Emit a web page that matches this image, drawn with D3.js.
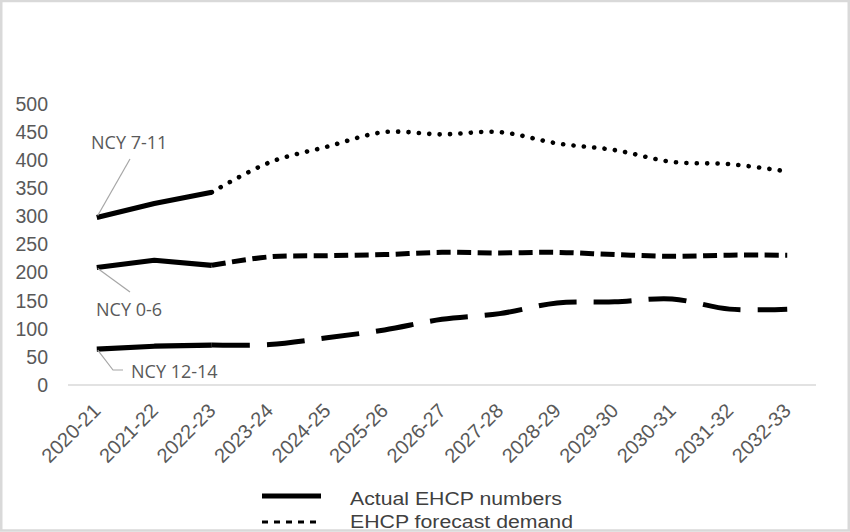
<!DOCTYPE html>
<html>
<head>
<meta charset="utf-8">
<script src="https://cdn.jsdelivr.net/npm/d3@7/dist/d3.min.js"></script>
<style>
  html, body { margin: 0; padding: 0; background: #fff; }
  svg { display: block; }
</style>
</head>
<body>
<svg id="chart" width="850" height="532"></svg>
<script>
// ---- Data ----
const categories = ["2020-21","2021-22","2022-23","2023-24","2024-25","2025-26","2026-27","2027-28","2028-29","2029-30","2030-31","2031-32","2032-33"];
const ncy711  = [298, 323, 343, 396, 424, 450, 446, 450, 430, 418, 397, 393, 380];
const ncy06   = [209, 222, 213, 228, 230, 232, 236, 235, 236, 232, 229, 231, 231];
const ncy1214 = [64, 69, 71, 72, 84, 98, 117, 127, 146, 148, 153, 135, 135];
const actualEndIndex = 2; // 2020-21 .. 2022-23 are actual numbers
const yTicks = [0, 50, 100, 150, 200, 250, 300, 350, 400, 450, 500];
const seriesNames = ["NCY 7-11", "NCY 0-6", "NCY 12-14"];
const legendLabels = ["Actual EHCP numbers", "EHCP forecast demand"];

// ---- Setup ----
const svg = d3.select("#chart");
const x = d3.scaleBand().domain(categories).range([68, 816]);
const cx = d => x(d) + x.bandwidth() / 2;
const y = d3.scaleLinear().domain([0, 500]).range([385, 104]);

const grey = "#595959";

// baseline axis
svg.append("line")
  .attr("x1", x.range()[0]).attr("x2", x.range()[1])
  .attr("y1", y(0)).attr("y2", y(0))
  .attr("stroke", "#d9d9d9").attr("stroke-width", 1.5);

// y tick labels
svg.append("g").selectAll("text").data(yTicks).join("text")
  .attr("x", 48).attr("y", d => y(d)).attr("dy", "0.35em")
  .attr("text-anchor", "end")
  .attr("font-family", "Liberation Sans, Arial, sans-serif")
  .attr("font-size", "19.5px").attr("fill", grey)
  .text(d => d);

// x tick labels (rotated)
svg.append("g").selectAll("text").data(categories).join("text")
  .attr("text-anchor", "end")
  .attr("transform", d => `translate(${cx(d) + 5},${412}) rotate(-45)`)
  .attr("font-family", "Liberation Sans, Arial, sans-serif")
  .attr("font-size", "20px").attr("fill", grey)
  .text(d => d);

// ---- Lines ----
const series = [
  { name: seriesNames[0], values: ncy711,  dash: "0.1 10.3", cap: "round", w: 4.6 },
  { name: seriesNames[1], values: ncy06,   dash: "14 6.5",   cap: "butt",  w: 5 },
  { name: seriesNames[2], values: ncy1214, dash: "38 17",    cap: "butt",  w: 5 }
];

const lineLinear = d3.line().x(d => cx(d.c)).y(d => y(d.v)).curve(d3.curveLinear);
const lineSmooth = d3.line().x(d => cx(d.c)).y(d => y(d.v)).curve(d3.curveCatmullRom.alpha(0.5));

series.forEach(s => {
  const pts = categories.map((c, i) => ({ c, v: s.values[i], i }));
  const actual = pts.filter(p => p.i <= actualEndIndex);
  const forecast = pts.filter(p => p.i >= actualEndIndex);
  svg.append("path").datum(forecast)
    .attr("d", lineSmooth)
    .attr("fill", "none").attr("stroke", "#000")
    .attr("stroke-width", s.w)
    .attr("stroke-dasharray", s.dash)
    .attr("stroke-linecap", s.cap);
  svg.append("path").datum(actual)
    .attr("d", lineLinear)
    .attr("fill", "none").attr("stroke", "#000")
    .attr("stroke-width", 5.2)
    .attr("stroke-linejoin", "round")
    .attr("stroke-linecap", "butt");
});

// ---- Data labels with leader lines ----
const labelFont = "Open Sans, sans-serif";
const leader = "#a6a6a6";
const labels = [
  { text: seriesNames[0], tx: 91, ty: 149, path: [[130, 159], [cx(categories[0]) + 1, y(ncy711[0]) - 2]] },
  { text: seriesNames[1], tx: 96, ty: 316, path: [[cx(categories[0]) + 1, y(ncy06[0]) + 1], [130, 292]] },
  { text: seriesNames[2], tx: 131, ty: 378, path: [[cx(categories[0]) + 1, y(ncy1214[0]) + 1], [113, 370], [123, 370]] }
];
labels.forEach(l => {
  svg.append("path")
    .attr("d", d3.line()(l.path))
    .attr("fill", "none").attr("stroke", leader).attr("stroke-width", 1.2);
  svg.append("text")
    .attr("x", l.tx).attr("y", l.ty)
    .attr("font-family", labelFont).attr("font-size", "18px").attr("fill", grey)
    .text(l.text);
});

// ---- Legend ----
const lg = svg.append("g");
lg.append("line").attr("x1", 262).attr("x2", 321).attr("y1", 496).attr("y2", 496)
  .attr("stroke", "#000").attr("stroke-width", 5);
lg.append("text").attr("x", 350).attr("y", 505)
  .attr("font-family", "Liberation Sans, Arial, sans-serif").attr("font-size", "17.5px")
  .attr("fill", "#404040").attr("textLength", 212).attr("lengthAdjust", "spacingAndGlyphs")
  .text(legendLabels[0]);
lg.append("line").attr("x1", 262).attr("x2", 321).attr("y1", 522).attr("y2", 522)
  .attr("stroke", "#000").attr("stroke-width", 3).attr("stroke-dasharray", "6 6");
lg.append("text").attr("x", 350).attr("y", 528)
  .attr("font-family", "Liberation Sans, Arial, sans-serif").attr("font-size", "17.5px")
  .attr("fill", "#404040").attr("textLength", 223).attr("lengthAdjust", "spacingAndGlyphs")
  .text(legendLabels[1]);

// ---- Outer border ----
svg.append("rect").attr("x", 1.25).attr("y", 1).attr("width", 847.5).attr("height", 529.5)
  .attr("fill", "none").attr("stroke", "#d9d9d9").attr("stroke-width", 2.5);
</script>
</body>
</html>
